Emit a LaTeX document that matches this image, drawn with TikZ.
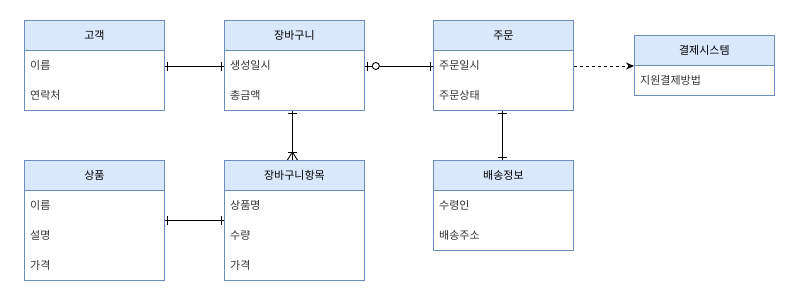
\documentclass[tikz,border=0pt]{standalone}
\usepackage{fontspec}
\setmainfont{Noto Sans CJK KR}
\usetikzlibrary{arrows.meta,decorations.markings,calc}
\definecolor{bordc}{HTML}{6C8EBF}
\definecolor{hdrc}{HTML}{DAE8FC}
\tikzset{
  ent/.style={draw=bordc, fill=white, minimum width=140pt, anchor=north west, inner sep=0pt, line width=0.8pt},
  hdr/.style={draw=bordc, fill=hdrc, minimum width=140pt, minimum height=30pt, anchor=north west, inner sep=0pt, line width=0.8pt, font=\fontsize{11}{13}\selectfont},
  fld/.style={anchor=west, inner sep=0pt, font=\fontsize{11}{13}\selectfont, text=black!80},
  conn/.style={draw=black, line width=0.9pt},
  onestart/.style={postaction={decorate, decoration={markings, mark=at position 3pt with {\draw[line width=0.9pt] (0pt,-4.5pt)--(0pt,4.5pt);}}}},
  oneend/.style={postaction={decorate, decoration={markings, mark=at position -3pt with {\draw[line width=0.9pt] (0pt,-4.5pt)--(0pt,4.5pt);}}}},
  zeroonestart/.style={postaction={decorate, decoration={markings,
     mark=at position 3pt with {\draw[line width=0.9pt] (0pt,-4.5pt)--(0pt,4.5pt);},
     mark=at position 11pt with {\draw[line width=0.9pt, fill=white] (0pt,0pt) circle (3.5pt);}}}},
  manyend/.style={postaction={decorate, decoration={markings,
     mark=at position -8pt with {\draw[line width=0.9pt] (0pt,-4.5pt)--(0pt,4.5pt); \draw[line width=0.9pt] (8pt,-5pt)--(0pt,0pt)--(8pt,5pt);}}}},
  depend/.style={draw=black, line width=0.9pt, dash pattern=on 3pt off 3pt, -{Stealth[length=8pt,width=7pt]}},
}
\begin{document}
\begin{tikzpicture}[x=1pt,y=-1pt]
\useasboundingbox (0,0) rectangle (794,300);
% 고객
\node[ent, minimum height=90pt] (c) at (24,20) {};
\node[hdr] (ch) at (24,20) {고객};
\node[fld] (c1) at (30,65) {이름};
\node[fld] (c2) at (30,95) {연락처};
% 장바구니
\node[ent, minimum height=90pt] (j) at (224,20) {};
\node[hdr] (jh) at (224,20) {장바구니};
\node[fld] (j1) at (230,65) {생성일시};
\node[fld] (j2) at (230,95) {총금액};
% 주문
\node[ent, minimum height=90pt] (o) at (433,20) {};
\node[hdr] (oh) at (433,20) {주문};
\node[fld] (o1) at (439,65) {주문일시};
\node[fld] (o2) at (439,95) {주문상태};
% 결제시스템
\node[ent, minimum height=60pt] (p) at (634,35) {};
\node[hdr] (ph) at (634,35) {결제시스템};
\node[fld] (p1) at (640,80) {지원결제방법};
% 상품
\node[ent, minimum height=120pt] (s) at (24,160) {};
\node[hdr] (sh) at (24,160) {상품};
\node[fld] (s1) at (30,205) {이름};
\node[fld] (s2) at (30,235) {설명};
\node[fld] (s3) at (30,265) {가격};
% 장바구니항목
\node[ent, minimum height=120pt] (i) at (224,160) {};
\node[hdr] (ih) at (224,160) {장바구니항목};
\node[fld] (i1) at (230,205) {상품명};
\node[fld] (i2) at (230,235) {수량};
\node[fld] (i3) at (230,265) {가격};
% 배송정보
\node[ent, minimum height=90pt] (d) at (433,160) {};
\node[hdr] (dh) at (433,160) {배송정보};
\node[fld] (d1) at (439,205) {수령인};
\node[fld] (d2) at (439,235) {배송주소};
% connectors
\coordinate (jb) at ($(j.south)+(-2,0)$);
\coordinate (it) at ($(i.north)+(-2,0)$);
\coordinate (ob) at ($(o.south)+(-1,0)$);
\coordinate (dt) at ($(d.north)+(-1,0)$);
\draw[conn, onestart, oneend] ($(c.east |- c1)+(0,1)$) -- ($(j.west |- c1)+(0,1)$);
\draw[conn, zeroonestart, oneend] ($(j.east |- j1)+(0,1)$) -- ($(o.west |- j1)+(0,1)$);
\draw[depend] ($(o.east |- o1)+(0,1)$) -- ($(p.west |- o1)+(0,1)$);
\draw[conn, onestart, manyend] (jb) -- (it);
\draw[conn, onestart, oneend] (ob) -- (dt);
\draw[conn, onestart, oneend] (s.east) -- (i.west);
\end{tikzpicture}
\end{document}
